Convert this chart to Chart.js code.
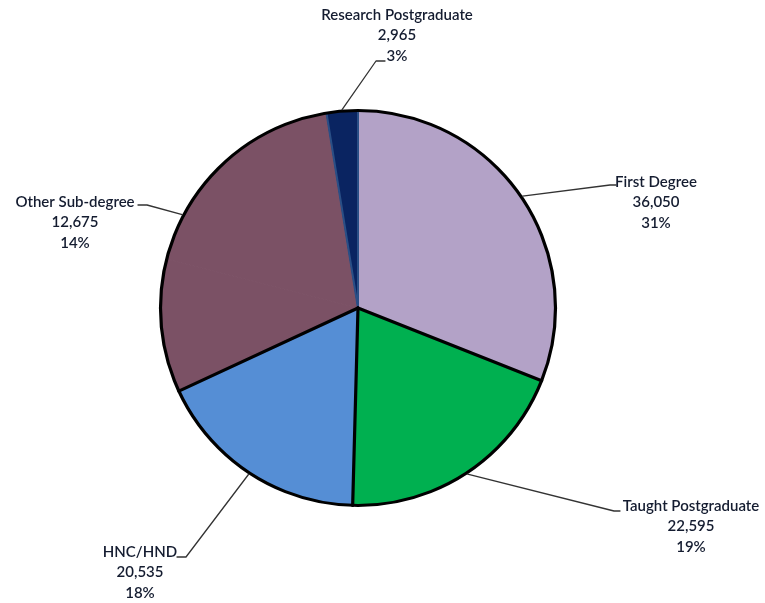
<!DOCTYPE html>
<html>
<head>
<meta charset="utf-8">
<script src="https://cdn.jsdelivr.net/npm/chart.js@4.4.1/dist/chart.umd.min.js"></script>
<style>
    body { margin: 0; background: #ffffff; }
    #wrap { width: 765px; height: 603px; position: relative; }
</style>
</head>
<body>
<div id="wrap"><canvas id="chart"></canvas></div>
<script>
// student numbers by level of study
const categories = ['First Degree', 'Taught Postgraduate', 'HNC/HND', 'Other Sub-degree', 'Research Postgraduate'];
const students = [36050, 22595, 20535, 12675, 2965];
const shareLabels = ['31%', '19%', '18%', '14%', '3%'];
// remainder of the maroon sector, carries no label of its own
const otherRemainder = 21470;

const colours = ['#b3a2c7', '#00b050', '#558ed5', '#7b5165', '#0a2461'];

// label boxes and leader elbows (text centre of first line, elbow, tick end)
const labelLayout = [
    { x: 656, y: 182, elbow: [610, 185], end: [616, 185] },
    { x: 691, y: 506, elbow: [614, 511], end: [620, 511] },
    { x: 140, y: 552, elbow: [186, 557], end: [177, 557] },
    { x: 75, y: 202, elbow: [147, 205], end: [138, 205] },
    { x: 397, y: 15, elbow: [376, 61], end: [385, 61] }
];

// slices in drawing order; the remainder sits right after Other Sub-degree
const pieValues = [students[0], students[1], students[2], students[3], otherRemainder, students[4]];
const pieColours = [colours[0], colours[1], colours[2], colours[3], colours[3], colours[4]];
// which arcs belong to each labelled category
const arcGroups = [[0], [1], [2], [3, 4], [5]];

const outlinePlugin = {
    id: 'outline',
    afterDatasetsDraw(chart) {
        const ctx = chart.ctx;
        const arcs = chart.getDatasetMeta(0).data;
        const cx = arcs[0].x, cy = arcs[0].y, r = arcs[0].outerRadius;

        ctx.save();
        ctx.lineCap = 'round';
        ctx.lineJoin = 'round';

        // navy slice gets its lighter blue edge
        const rp = arcs[5];
        ctx.strokeStyle = '#2a4f86';
        ctx.lineWidth = 2;
        [rp.startAngle, rp.endAngle].forEach(function (a) {
            ctx.beginPath();
            ctx.moveTo(cx, cy);
            ctx.lineTo(cx + r * Math.cos(a), cy + r * Math.sin(a));
            ctx.stroke();
        });

        // black radial edges between the other slices
        ctx.strokeStyle = '#000000';
        ctx.lineWidth = 3.2;
        [arcs[0].endAngle, arcs[1].endAngle, arcs[2].endAngle].forEach(function (a) {
            ctx.beginPath();
            ctx.moveTo(cx, cy);
            ctx.lineTo(cx + r * Math.cos(a), cy + r * Math.sin(a));
            ctx.stroke();
        });

        // outer rim
        ctx.beginPath();
        ctx.arc(cx, cy, r, 0, Math.PI * 2);
        ctx.stroke();

        // leader lines and labels
        ctx.font = '600 15px Lato';
        ctx.textAlign = 'center';
        ctx.textBaseline = 'middle';
        categories.forEach(function (name, i) {
            const group = arcGroups[i];
            const a0 = arcs[group[0]].startAngle;
            const a1 = arcs[group[group.length - 1]].endAngle;
            const mid = (a0 + a1) / 2;
            const lay = labelLayout[i];

            ctx.strokeStyle = '#333333';
            ctx.lineWidth = 1.3;
            ctx.beginPath();
            ctx.moveTo(cx + (r + 1.5) * Math.cos(mid), cy + (r + 1.5) * Math.sin(mid));
            ctx.lineTo(lay.elbow[0], lay.elbow[1]);
            ctx.lineTo(lay.end[0], lay.end[1]);
            ctx.stroke();

            ctx.fillStyle = '#141c30';
            ctx.fillText(name, lay.x, lay.y);
            ctx.fillText(students[i].toLocaleString('en-GB'), lay.x, lay.y + 20);
            ctx.fillText(shareLabels[i], lay.x, lay.y + 41);
        });
        ctx.restore();
    }
};

const ctx = document.getElementById('chart').getContext('2d');
const myChart = new Chart(ctx, {
    type: 'pie',
    data: {
        labels: categories.slice(0, 4).concat(['', categories[4]]),
        datasets: [{
            data: pieValues,
            backgroundColor: pieColours,
            borderColor: pieColours,
            borderWidth: 1
        }]
    },
    options: {
        responsive: true,
        maintainAspectRatio: false,
        animation: false,
        radius: 197.5,
        layout: {
            padding: { left: 0, right: 49, top: 13, bottom: 0 }
        },
        plugins: {
            legend: { display: false },
            tooltip: { enabled: false }
        }
    },
    plugins: [outlinePlugin]
});
</script>
</body>
</html>
